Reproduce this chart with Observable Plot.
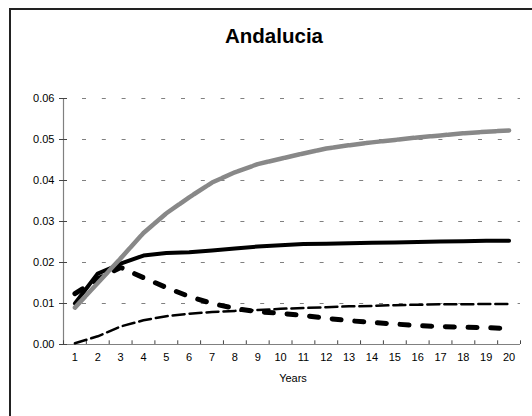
<!DOCTYPE html>
<html>
<head>
<meta charset="utf-8">
<script src="https://cdn.jsdelivr.net/npm/d3@7"></script>
<script src="https://cdn.jsdelivr.net/npm/@observablehq/plot@0.6"></script>
<style>
  html, body { margin: 0; padding: 0; background: #fff; }
  #wrap { position: relative; width: 532px; height: 416px; overflow: hidden; font-family: Arial, "Liberation Sans", sans-serif; }
  #frame { position: absolute; left: 9px; top: 8px; width: 700px; height: 600px; border-left: 2px solid #222; border-top: 2px solid #222; }
  #title { position: absolute; left: 0; width: 548px; top: 24px; text-align: center; font-size: 20.5px; font-weight: bold; color: #000; }
  #chart { position: absolute; left: 0; top: 0; }
</style>
</head>
<body>
<div id="wrap">
  <div id="frame"></div>
  <div id="title">Andalucia</div>
  <div id="chart"></div>
</div>
<script>
const years = [1,2,3,4,5,6,7,8,9,10,11,12,13,14,15,16,17,18,19,20];
const grayDashed = [0.0090,0.0150,0.0210,0.0272,0.0320,0.0359,0.0395,0.0420,0.0440,0.0453,0.0466,0.0478,0.0486,0.0493,0.0499,0.0505,0.0510,0.0515,0.0519,0.0522];
const blackSolid = [0.0100,0.0173,0.0197,0.0217,0.0223,0.0225,0.0229,0.0234,0.0239,0.0242,0.0245,0.0246,0.0247,0.0248,0.0249,0.0250,0.0251,0.0252,0.0253,0.0253];
const shortDashed = [0.0124,0.0160,0.0188,0.0163,0.0139,0.0117,0.0100,0.0088,0.0080,0.0076,0.0071,0.0064,0.0058,0.0054,0.0050,0.0046,0.0044,0.0042,0.0041,0.0039];
const longDashed = [0.0003,0.0020,0.0044,0.0059,0.0069,0.0075,0.0079,0.0082,0.0084,0.0087,0.0089,0.0091,0.0093,0.0094,0.0096,0.0097,0.0098,0.0098,0.0099,0.0099];
const yTicks = [0, 0.01, 0.02, 0.03, 0.04, 0.05, 0.06];
const xLabel = "Years";

const rows = (vals) => years.map((y, i) => ({year: y, value: vals[i]}));
const bounds = [years[0] - 0.5, ...years.map(y => y + 0.5)];
const xDomain = [years[0] - 0.5, years[years.length - 1] + 0.5];

const chart = Plot.plot({
  width: 532,
  height: 416,
  marginLeft: 63,
  marginRight: 12,
  marginTop: 98,
  marginBottom: 72,
  style: {fontFamily: "Arial, 'Liberation Sans', sans-serif", fontSize: "11px", background: "transparent", color: "#000"},
  x: {type: "linear", domain: xDomain},
  y: {domain: [0, 0.06]},
  marks: [
    Plot.ruleY(yTicks.slice(1), {x1: xDomain[0], x2: xDomain[1], stroke: "#808080", strokeWidth: 1, strokeDasharray: "4 15.8", strokeDashoffset: 0.8}),
    Plot.ruleX([xDomain[0]], {y1: 0, y2: 0.06, stroke: "#808080", strokeWidth: 1.2}),
    Plot.ruleY([0], {x1: xDomain[0], x2: xDomain[1], stroke: "#808080", strokeWidth: 1.2}),
    Plot.ruleX(bounds, {x: d => d, y1: 0, y2: 0.0009, stroke: "#444", strokeWidth: 1}),
    Plot.axisY({ticks: yTicks, tickSize: 8, dx: 4, tickPadding: 5, tickFormat: d3.format(".2f"), stroke: "#444", label: null}),
    Plot.axisX({ticks: years, tickSize: 0, tickPadding: 9, tickFormat: d => String(d), label: null}),
    Plot.text([xLabel], {frameAnchor: "bottom", dy: 37, dx: 1, fontSize: 11, text: d => d}),
    Plot.line(rows(longDashed), {x: "year", y: "value", stroke: "#000", strokeWidth: 2.5, strokeDasharray: "12 5"}),
    Plot.line(rows(shortDashed), {x: "year", y: "value", stroke: "#000", strokeWidth: 5, strokeDasharray: "9 13.7"}),
    Plot.line(rows(blackSolid), {x: "year", y: "value", stroke: "#000", strokeWidth: 4, strokeLinecap: "round"}),
    Plot.line(rows(grayDashed), {x: "year", y: "value", stroke: "#888", strokeWidth: 4.5, strokeDasharray: "15 1.5"})
  ]
});
document.getElementById("chart").appendChild(chart);
</script>
</body>
</html>
